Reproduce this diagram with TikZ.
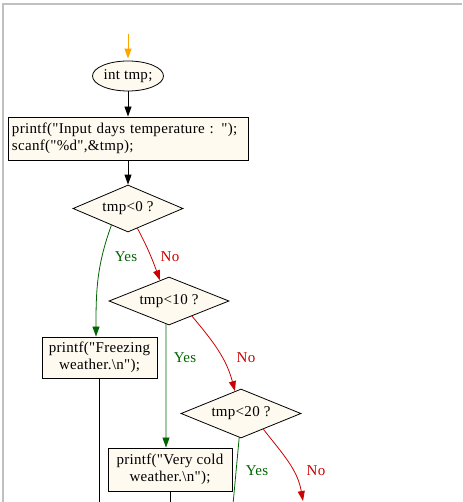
\documentclass[tikz,border=0pt]{standalone}
\usepackage{fontspec}
\setmainfont{Liberation Serif}[LetterSpace=2, Ligatures=TeXOff]
\usetikzlibrary{shapes.geometric,arrows.meta,calc}
\definecolor{cream}{HTML}{FFFAF0}
\definecolor{ygreen}{HTML}{006400}
\definecolor{nred}{HTML}{CC0000}
\definecolor{startor}{HTML}{FFA500}
\definecolor{framegray}{HTML}{C0C0C0}
\begin{document}
\begin{tikzpicture}[x=1pt,y=1pt,
  every node/.style={font=\fontsize{15}{17.5}\selectfont},
  proc/.style={draw, fill=cream, rectangle, inner sep=0pt, line width=0.9pt},
  dec/.style={draw, fill=cream, diamond, inner sep=0pt, shape aspect=2.4, line width=0.8pt},
  flow/.style={line width=0.9pt, -{Triangle[length=10pt,width=7pt]}},
  yesln/.style={color=ygreen, line width=0.8pt, -{Triangle[length=10pt,width=7pt]}},
  noln/.style={color=nred, line width=0.8pt, -{Triangle[length=10pt,width=7pt]}},
  ylab/.style={text=ygreen, inner sep=0pt},
  nlab/.style={text=nred, inner sep=0pt}]
\useasboundingbox (0,0) rectangle (462,-502);
\clip (0,0) rectangle (462,-502);
% frame
\coordinate (fa) at (3,-502);
\coordinate (fb) at (3,-4);
\coordinate (fc) at (462,-4);
\draw[framegray, line width=2pt] (fa) -- (fb) -- (fc);
% nodes
\coordinate (st) at (128,-34);
\node[ellipse, draw, fill=cream, minimum width=71pt, minimum height=30pt, inner sep=0pt, line width=0.8pt] (ell) at (128,-76) {int tmp;};
\node[proc, minimum width=240pt, minimum height=43pt, text width=232pt, align=left] (inp) at (128,-138.5)
  {printf("Input days temperature : ");\\scanf("\%d",\&tmp);};
\node[dec, minimum width=110pt, minimum height=47pt] (d1) at (128,-208.5) {tmp<0 ?};
\node[proc, minimum width=115pt, minimum height=41pt, align=center] (fz) at (99.5,-357.5)
  {printf("Freezing\\weather.\textbackslash n");};
\node[dec, minimum width=120pt, minimum height=48pt] (d2) at (169,-301) {tmp<10 ?};
\node[proc, minimum width=124pt, minimum height=43pt, align=center] (vc) at (170,-469.5)
  {printf("Very cold\\weather.\textbackslash n");};
\node[dec, minimum width=120pt, minimum height=49pt] (d3) at (241,-413.5) {tmp<20 ?};
% free ends
\coordinate (y3) at (232,-515);
\coordinate (n3) at (303,-501);
\coordinate (fzb) at (99.5,-515);
\coordinate (vcb) at (170,-515);
% connectors
\draw[flow, color=startor, shorten >=2pt] (st) -- (ell);
\draw[flow] (ell) -- (inp);
\draw[flow] (inp) -- (d1);
\draw[yesln] ($(d1.south)!0.3!(d1.west)$) to[out=-110,in=90] ([xshift=-3.5pt]fz.north);
\draw[noln] ($(d1.south)!0.17!(d1.east)$) to[out=-62,in=110] ($(d2.north)!0.15!(d2.west)$);
\draw[yesln] ($(d2.south)!0.05!(d2.west)$) -- ([xshift=-4pt]vc.north);
\draw[noln] ($(d2.south)!0.38!(d2.east)$) to[out=-50,in=105] ($(d3.north)!0.1!(d3.west)$);
\draw[color=ygreen, line width=0.8pt] ($(d3.south)!0.03!(d3.west)$) -- (y3);
\draw[noln] ($(d3.south)!0.37!(d3.east)$) to[out=-52,in=100] (n3);
\draw[line width=0.9pt] (fz.south) -- (fzb);
\draw[line width=0.9pt] (vc.south) -- (vcb);
% labels
\node[ylab] (yes1) at (126,-257) {Yes};
\node[nlab] (no1) at (170,-257) {No};
\node[ylab] (yes2) at (185,-358) {Yes};
\node[nlab] (no2) at (246,-358) {No};
\node[ylab] (yes3) at (257,-471) {Yes};
\node[nlab] (no3) at (316,-471) {No};
\end{tikzpicture}
\end{document}
